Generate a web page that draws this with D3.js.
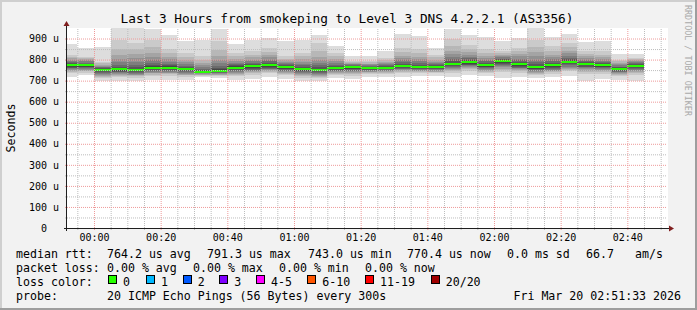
<!DOCTYPE html>
<html><head><meta charset="utf-8">
<script src="https://cdn.jsdelivr.net/npm/d3@7"></script>
<style>
html,body{margin:0;padding:0;background:#f2f2f2;}
svg{display:block;}
text{font-family:"DejaVu Sans Mono",monospace;fill:#000;}
</style></head><body>
<svg id="chart" width="697" height="310"></svg>
<script>
// ---------------- DATA ----------------
const titleText = "Last 3 Hours from smokeping to Level 3 DNS 4.2.2.1 (AS3356)";
const stepSeconds = 300;
// start time of each 5-minute step (Mar 19 23:50 .. Mar 20 02:40)
const slotTimes = ["23:50","23:55","00:00","00:05","00:10","00:15","00:20","00:25","00:30","00:35",
  "00:40","00:45","00:50","00:55","01:00","01:05","01:10","01:15","01:20","01:25","01:30","01:35",
  "01:40","01:45","01:50","01:55","02:00","02:05","02:10","02:15","02:20","02:25","02:30","02:35","02:40"];
// median rtt per step, microseconds
const medianUs = [772,772,749.5,753,749,762,762,754,743,748,762,768,772,763,754,749,759,763,759,760,
  769,763,763,779,788,773,791.3,778,763,772,788,778,773,754,770.4];
// lost pings per step (of 20)
const lossCount = [0,0,0,0,0,0,0,0,0,0,0,0,0,0,0,0,0,0,0,0,0,0,0,0,0,0,0,0,0,0,0,0,0,0,0];
// 20 sorted ping rtts per step, microseconds (smoke)
const pings = [
[716,736,742,746,750,754,758,762,766,770,774,778,783,788,794,800,807,814,824,876],
[725,738,744,748,752,756,760,764,767,770,774,777,781,786,791,796,801,807,814,856],
[700,713,719,724,729,733,737,741,745,747,752,755,759,763,767,771,776,782,790,860],
[700,716,722,727,731,735,739,743,747,751,755,760,767,776,788,803,822,850,895,950],
[700,714,720,725,729,733,737,741,745,747,751,757,765,776,790,806,825,850,880,950],
[705,723,729,734,738,742,746,750,755,760,764,769,776,785,797,812,831,858,895,943],
[705,724,730,734,738,742,746,750,755,760,764,768,774,781,790,801,814,830,850,919],
[705,719,725,729,733,737,741,745,749,752,756,760,765,771,779,788,799,814,833,887],
[716,722,725,728,731,734,736,738,740,741,745,748,752,757,764,772,782,796,815,895],
[713,721,725,729,732,735,738,741,744,746,750,755,762,771,783,798,818,846,890,943],
[705,722,728,733,737,741,745,750,755,760,764,768,772,777,783,791,801,815,833,876],
[710,728,734,739,744,748,752,757,762,766,770,774,779,785,792,800,810,823,840,892],
[719,734,740,745,749,753,757,762,766,770,774,779,785,792,800,810,822,838,857,903],
[710,725,731,736,740,744,748,753,757,761,765,769,773,778,784,790,797,805,816,887],
[697,714,721,726,731,735,739,744,748,752,756,760,766,773,781,790,801,815,833,895],
[698,713,719,724,729,733,737,741,745,747,751,756,763,772,783,796,812,840,878,919],
[713,727,732,736,740,744,748,752,756,757,761,765,770,776,783,791,801,815,832,866],
[708,724,730,735,740,744,748,753,757,761,765,768,771,774,777,780,783,787,793,819],
[718,730,735,739,743,746,749,752,755,757,761,764,767,770,773,777,781,787,794,819],
[718,731,736,740,744,747,750,753,756,758,762,765,769,773,778,783,789,797,808,843],
[719,734,740,745,749,753,757,761,764,767,771,775,781,788,797,807,819,835,856,923],
[722,735,740,744,748,751,754,757,760,761,765,769,775,782,791,801,813,830,851,914],
[721,734,739,743,747,750,753,756,759,761,765,768,772,777,783,790,799,810,824,856],
[717,737,744,749,754,759,764,769,774,777,781,786,793,802,813,826,842,866,900,943],
[729,747,754,759,764,768,772,776,781,786,790,794,799,806,814,824,836,851,871,919],
[721,736,742,747,751,755,759,763,767,771,775,779,784,791,799,808,818,831,848,907],
[712,740,750,757,763,768,773,778,783,789,793.6,797,801,805,810,815,821,829,840,886],
[718,737,744,749,754,758,762,766,771,776,780,784,790,797,805,815,826,839,856,901],
[712,726,732,737,741,745,749,753,757,761,765,770,778,788,800,815,834,858,895,952],
[717,733,739,744,748,752,756,760,765,770,774,779,785,792,801,811,823,840,863,909],
[723,744,751,757,762,767,772,777,782,786,790,795,801,809,818,829,842,859,880,923],
[700,730,740,747,753,758,763,767,772,776,780,784,789,794,800,807,815,826,840,882],
[707,730,739,745,750,755,759,763,767,771,775,779,784,789,795,802,811,823,840,886],
[705,721,727,731,735,739,743,746,749,752,756,759,763,767,772,777,783,791,800,828],
[700,726,734,740,745,750,755,760,764,768,772.8,776,780,784,788,792,796,801,808,828]
];
const yMajorTicks = [0,100,200,300,400,500,600,700,800,900];
const yMinorTicks = [50,150,250,350,450,550,650,750,850];
const lossLabels = ["0","1","2","3","4-5","6-10","11-19","20/20"];
const lossColors = ["#26ff00","#00b8ff","#0059ff","#7e00ff","#ff00ff","#ff5500","#ff0000","#a00000"];
const lossThresholds = [0,1,2,3,4,6,11,20];
const rttStats = ["764.2 us avg","791.3 us max","743.0 us min","770.4 us now","0.0 ms sd","66.7","am/s"];
const lossStats = ["0.00 % avg","0.00 % max","0.00 % min","0.00 % now"];
const probeText = "20 ICMP Echo Pings (56 Bytes) every 300s";
const dateText = "Fri Mar 20 02:51:33 2026";
const smokeShades = ["#dddddd","#cacaca","#b7b7b7","#a4a4a4","#919191","#7e7e7e","#6b6b6b","#585858","#454545","#323232"];

// ---------------- CHART ----------------
const W = 697, H = 310;
const svg = d3.select("#chart");
const parseSlot = s => { const [h, m] = s.split(":").map(Number); return new Date(2026, 2, h >= 12 ? 19 : 20, h, m, 0); };
const tStart = new Date(2026, 2, 19, 23, 51, 45), tEnd = new Date(2026, 2, 20, 2, 51, 45);
const x = d3.scaleTime().domain([tStart, tEnd]).range([66.5, 666.5]);
const y = d3.scaleLinear().domain([0, 950]).range([228, 28]);

// background & frame
svg.append("rect").attr("width", W).attr("height", H).attr("fill", "#f2f2f2");
svg.append("rect").attr("x", 0).attr("y", 0).attr("width", W).attr("height", 2).attr("fill", "#cfcfcf");
svg.append("rect").attr("x", 0).attr("y", 0).attr("width", 2).attr("height", H).attr("fill", "#cfcfcf");
svg.append("rect").attr("x", W - 2).attr("y", 0).attr("width", 2).attr("height", H).attr("fill", "#9e9e9e");
svg.append("rect").attr("x", 0).attr("y", H - 2).attr("width", W).attr("height", 2).attr("fill", "#9e9e9e");

// canvas
svg.append("rect").attr("x", 67).attr("y", 28).attr("width", 601).attr("height", 200).attr("fill", "#ffffff");
svg.append("defs").append("clipPath").attr("id", "plotclip")
  .append("rect").attr("x", 67).attr("y", 28).attr("width", 601).attr("height", 200);

// smoke
const gSmoke = svg.append("g").attr("clip-path", "url(#plotclip)").attr("shape-rendering", "crispEdges");
pings.forEach((p, i) => {
  const t0 = parseSlot(slotTimes[i]);
  const t1 = new Date(+t0 + stepSeconds * 1000);
  const xa = x(t0), xb = x(t1);
  for (let k = 0; k < 10; k++) {
    const lo = p[k], hi = p[19 - k];
    gSmoke.append("rect").attr("x", xa).attr("width", xb - xa)
      .attr("y", y(hi)).attr("height", y(lo) - y(hi)).attr("fill", smokeShades[k]);
  }
});
// median
const lossColor = n => { let c = lossColors[0]; lossThresholds.forEach((t, j) => { if (n >= t) c = lossColors[j]; }); return c; };
medianUs.forEach((m, i) => {
  const t0 = parseSlot(slotTimes[i]);
  const t1 = new Date(+t0 + stepSeconds * 1000);
  gSmoke.append("rect").attr("x", x(t0)).attr("width", x(t1) - x(t0))
    .attr("y", y(m) - 1).attr("height", 2).attr("fill", lossColor(lossCount[i]));
});

// grid
const minorX = d3.timeMinute.every(5).range(tStart, tEnd).filter(d => d.getMinutes() % 20 !== 0);
const majorX = d3.timeMinute.every(20).range(tStart, tEnd);
const minorCol = "#bdbdbd", majorCol = "#ee9a9a";
function gridX(vals, col) {
  svg.append("g").attr("transform", "translate(0,228)")
    .call(d3.axisBottom(x).tickValues(vals).tickSize(-200).tickFormat(""))
    .call(g => { g.select(".domain").remove(); g.selectAll("line").attr("stroke", col).attr("stroke-dasharray", "1,1"); });
  svg.append("g").attr("transform", "translate(0,228)")
    .call(d3.axisBottom(x).tickValues(vals).tickSize(2).tickFormat(""))
    .call(g => { g.select(".domain").remove(); g.selectAll("line").attr("stroke", col); });
}
function gridY(vals, col) {
  svg.append("g").attr("transform", "translate(67,0)")
    .call(d3.axisLeft(y).tickValues(vals).tickSize(-600).tickFormat(""))
    .call(g => { g.select(".domain").remove(); g.selectAll("line").attr("stroke", col).attr("stroke-dasharray", "1,1"); });
  svg.append("g").attr("transform", "translate(67,0)")
    .call(d3.axisLeft(y).tickValues(vals).tickSize(2).tickFormat(""))
    .call(g => { g.select(".domain").remove(); g.selectAll("line").attr("stroke", col); });
}
gridX(minorX, minorCol);
gridY(yMinorTicks, minorCol);
gridX(majorX, majorCol);
gridY(yMajorTicks.filter(v => v > 0), majorCol);

// axes lines + arrows
svg.append("line").attr("x1", 64).attr("x2", 669).attr("y1", 228.5).attr("y2", 228.5).attr("stroke", "#1f1f1f");
svg.append("line").attr("x1", 66.5).attr("x2", 66.5).attr("y1", 231).attr("y2", 25).attr("stroke", "#1f1f1f");
svg.append("path").attr("d", "M669,225.5L674,228.5L669,231.5Z").attr("fill", "#801f1f");
svg.append("path").attr("d", "M63.5,26L66.5,21L69.5,26Z").attr("fill", "#801f1f");

// axis labels
svg.append("g").attr("transform", "translate(0,228)")
  .call(d3.axisBottom(x).tickValues(majorX).tickSize(0).tickPadding(6).tickFormat(d3.timeFormat("%H:%M")))
  .call(g => { g.select(".domain").remove(); g.selectAll("text").attr("font-family", "DejaVu Sans Mono").attr("font-size", "10px").attr("fill", "#000"); });
svg.append("g").attr("transform", "translate(67,0)")
  .call(d3.axisLeft(y).tickValues(yMajorTicks).tickSize(0).tickPadding(8).tickFormat(d => d === 0 ? "0" : d + " u"))
  .call(g => {
    g.select(".domain").remove();
    g.selectAll("text").attr("font-family", "DejaVu Sans Mono").attr("font-size", "10px").attr("fill", "#000")
      .filter(d => d === 0).attr("x", -20);
  });

// y title
svg.append("text").attr("transform", "translate(15,128) rotate(-90)").attr("text-anchor", "middle")
  .attr("font-size", "11.6px").text("Seconds");
// title
svg.append("text").attr("x", 347).attr("y", 23).attr("text-anchor", "middle").attr("font-size", "12.75px").text(titleText);
// watermark
svg.append("text").attr("transform", "translate(685,5) rotate(90)").attr("font-size", "8.4px")
  .style("fill", "#a9a9a9").text("RRDTOOL / TOBI OETIKER");

// legend
const lf = "11.6px";
const leg = (tx, xx, yy, anchor) => svg.append("text").attr("x", xx).attr("y", yy).attr("font-size", lf)
  .attr("text-anchor", anchor || "start").attr("xml:space", "preserve").text(tx);
leg("median rtt:", 16, 258);
[107, 207, 308, 407, 507, 586, 635].forEach((xx, i) => leg(rttStats[i], xx, 258));
leg("packet loss:", 16, 272);
[107, 193, 279, 365].forEach((xx, i) => leg(lossStats[i], xx, 272));
leg("loss color:", 16, 286);
const boxX = [108, 146, 182.7, 219.3, 256, 307.3, 365, 430.7];
lossLabels.forEach((lab, i) => {
  svg.append("rect").attr("x", Math.round(boxX[i]) + 0.5).attr("y", 275.5).attr("width", 8).attr("height", 8)
    .attr("fill", lossColors[i]).attr("stroke", "#000").attr("stroke-width", 1);
  leg(lab, boxX[i] + 15, 286);
});
leg("probe:", 16, 300);
leg(probeText, 107, 300);
leg(dateText, 681, 300, "end");
</script>
</body></html>
